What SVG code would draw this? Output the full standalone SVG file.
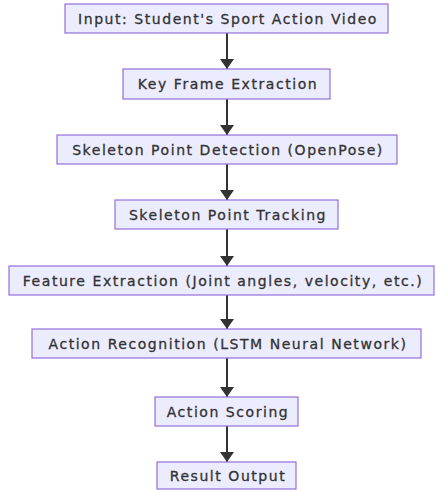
<svg xmlns="http://www.w3.org/2000/svg" width="436" height="490" viewBox="0 0 436 490">
<style>
.n rect{fill:#ECECFF;stroke:#9370DB;stroke-width:1.2}
.n text{font-family:"DejaVu Sans",Verdana,sans-serif;font-size:14px;letter-spacing:1.55px;fill:#333;stroke:#333;stroke-width:0.3;text-anchor:middle;dominant-baseline:central}
.e line{stroke:#333;stroke-width:2}
</style>
<defs>
<marker id="ah" markerWidth="10" markerHeight="14" refX="10" refY="7" orient="auto" markerUnits="userSpaceOnUse" viewBox="0 0 10 14">
<path d="M0,0 L10,7 L0,14 Z" fill="#333"/>
</marker>
</defs>
<rect width="436" height="490" fill="#fff"/>
<g id="edges" class="e">
<line x1="227" y1="33" x2="227" y2="69" marker-end="url(#ah)"/>
<line x1="227" y1="99" x2="227" y2="135" marker-end="url(#ah)"/>
<line x1="227" y1="164" x2="227" y2="200" marker-end="url(#ah)"/>
<line x1="227" y1="229" x2="227" y2="266" marker-end="url(#ah)"/>
<line x1="227" y1="295" x2="227" y2="329" marker-end="url(#ah)"/>
<line x1="227" y1="358" x2="227" y2="397" marker-end="url(#ah)"/>
<line x1="227" y1="426" x2="227" y2="462" marker-end="url(#ah)"/>
</g>
<g id="n1" class="n"><rect x="65" y="4" width="323" height="29"/><text x="228" y="18.5">Input: Student's Sport Action Video</text></g>
<g id="n2" class="n"><rect x="123" y="69" width="207" height="30"/><text x="228" y="84">Key Frame Extraction</text></g>
<g id="n3" class="n"><rect x="57" y="135" width="340" height="29"/><text x="228" y="149.5">Skeleton Point Detection (OpenPose)</text></g>
<g id="n4" class="n"><rect x="115" y="200" width="223" height="29"/><text x="228" y="214.5">Skeleton Point Tracking</text></g>
<g id="n5" class="n"><rect x="9" y="266" width="425" height="29"/><text x="223" y="280.5">Feature Extraction (Joint angles, velocity, etc.)</text></g>
<g id="n6" class="n"><rect x="32" y="329" width="389" height="29"/><text x="228" y="343.5">Action Recognition (LSTM Neural Network)</text></g>
<g id="n7" class="n"><rect x="155" y="397" width="143" height="29"/><text x="228" y="411.5">Action Scoring</text></g>
<g id="n8" class="n"><rect x="157" y="462" width="139" height="27"/><text x="228" y="476">Result Output</text></g>
</svg>
